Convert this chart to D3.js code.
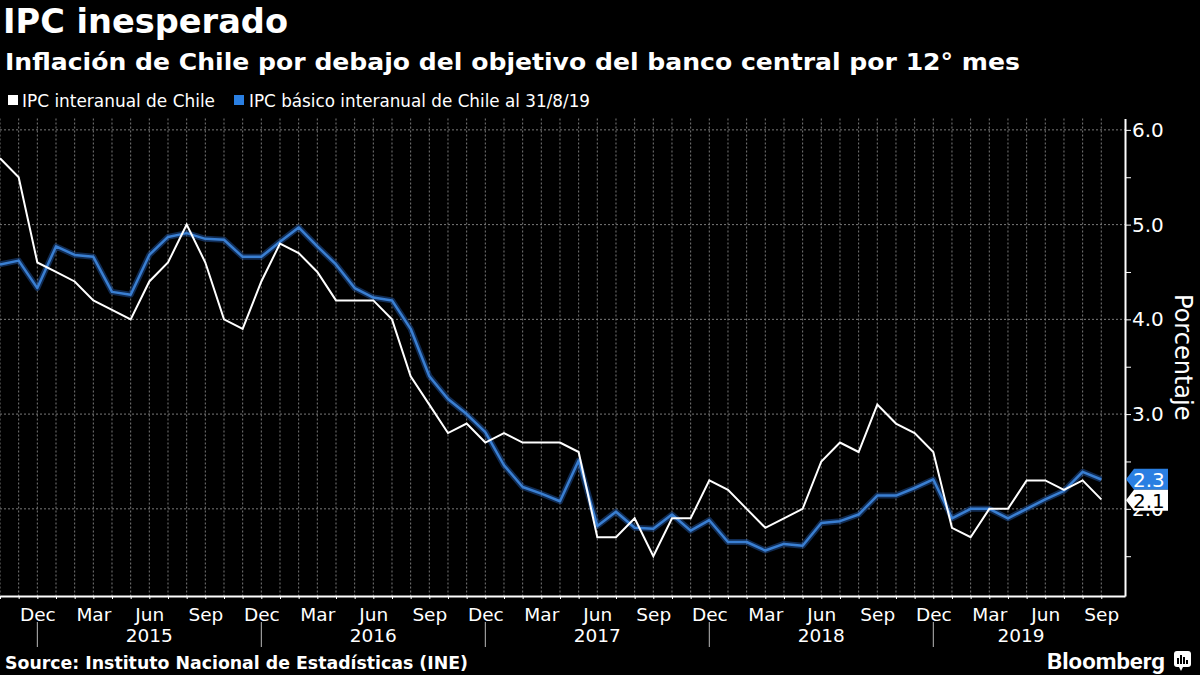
<!DOCTYPE html>
<html><head><meta charset="utf-8">
<script src="https://cdn.jsdelivr.net/npm/d3@7"></script>
<style>body{margin:0;background:#000;} svg{display:block;}</style>
</head><body><svg id="c" width="1200" height="675"></svg>
<script>
// ---- data ----
const titleText = "IPC inesperado";
const subtitleText = "Inflación de Chile por debajo del objetivo del banco central por 12° mes";
const seriesNames = ["IPC interanual de Chile", "IPC básico interanual de Chile al 31/8/19"];
const sourceText = "Source: Instituto Nacional de Estadísticas (INE)";
const axisTitle = "Porcentaje";
const startDate = new Date(2014, 9, 1);   // Oct 2014
const endDate = new Date(2019, 9, 1);     // exclusive -> Sep 2019
const monthLabels = {11: "Dec", 2: "Mar", 5: "Jun", 8: "Sep"};
const years = [2015, 2016, 2017, 2018, 2019];
const yTickValues = [1.5, 2, 2.5, 3, 3.5, 4, 4.5, 5, 5.5, 6];
const ipc = [
  5.7, 5.5, 4.6,
  4.5, 4.4, 4.2, 4.1, 4.0, 4.4, 4.6, 5.0, 4.6, 4.0, 3.9, 4.4,
  4.8, 4.7, 4.5, 4.2, 4.2, 4.2, 4.0, 3.4, 3.1, 2.8, 2.9, 2.7,
  2.8, 2.7, 2.7, 2.7, 2.6, 1.7, 1.7, 1.9, 1.5, 1.9, 1.9, 2.3,
  2.2, 2.0, 1.8, 1.9, 2.0, 2.5, 2.7, 2.6, 3.1, 2.9, 2.8, 2.6,
  1.8, 1.7, 2.0, 2.0, 2.3, 2.3, 2.2, 2.3, 2.1
];
const ipcCore = [
  4.58, 4.62, 4.33,
  4.77, 4.68, 4.66, 4.29, 4.26, 4.68, 4.87, 4.91, 4.85, 4.84, 4.66, 4.66,
  4.82, 4.97, 4.77, 4.58, 4.33, 4.23, 4.20, 3.90, 3.40, 3.16, 3.00, 2.81,
  2.46, 2.23, 2.16, 2.08, 2.51, 1.82, 1.97, 1.80, 1.79, 1.94, 1.77, 1.88,
  1.65, 1.65, 1.56, 1.63, 1.61, 1.85, 1.87, 1.94, 2.14, 2.14, 2.22, 2.31,
  1.90, 2.00, 2.00, 1.90, 2.00, 2.10, 2.19, 2.39, 2.31
];
const colors = {white: "#ffffff", blue: "#3a7fd2", blueTag: "#2a7fe2", grid: "#7a7a7a"};

// ---- layout ----
const dates = d3.timeMonth.range(startDate, endDate);
const idx = dates.map((d, i) => i);
const plot = {left: 0, right: 1125, top: 118.5, bottom: 596};
const x = d3.scaleLinear().domain([0, 60.27]).range([plot.left, plot.right]);
const y = d3.scaleLinear().domain([1.08, 6.12]).range([plot.bottom, plot.top]);

const svg = d3.select("#c");
svg.append("rect").attr("width", 1200).attr("height", 675).attr("fill", "#000");

const FONT = "'DejaVu Sans', sans-serif";

// title
svg.append("text").attr("x", 3).attr("y", 33).text(titleText)
  .attr("fill", "#fff").attr("font-family", FONT).attr("font-weight", "bold")
  .attr("font-size", 33).attr("textLength", 285).attr("lengthAdjust", "spacingAndGlyphs");
svg.append("text").attr("x", 5).attr("y", 70).text(subtitleText)
  .attr("fill", "#fff").attr("font-family", FONT).attr("font-weight", "bold")
  .attr("font-size", 23).attr("textLength", 1015).attr("lengthAdjust", "spacingAndGlyphs");

// legend
const legend = [
  {name: seriesNames[0], color: colors.white, sx: 8, tx: 22, tw: 193},
  {name: seriesNames[1], color: colors.blueTag, sx: 234, tx: 249, tw: 341}
];
legend.forEach(l => {
  svg.append("rect").attr("x", l.sx).attr("y", 95).attr("width", 10).attr("height", 10).attr("fill", l.color);
  svg.append("text").attr("x", l.tx).attr("y", 107).text(l.name).attr("fill", "#fff")
    .attr("font-family", FONT).attr("font-size", 17)
    .attr("textLength", l.tw).attr("lengthAdjust", "spacingAndGlyphs");
});

// grid
const grid = svg.append("g");
grid.selectAll("line.v").data(idx).join("line")
  .attr("x1", d => x(d)).attr("x2", d => x(d))
  .attr("y1", plot.top).attr("y2", plot.bottom)
  .attr("stroke", colors.grid).attr("stroke-width", 1).attr("stroke-dasharray", "2,2");
grid.selectAll("line.h").data(yTickValues.filter(v => v % 1 === 0)).join("line")
  .attr("x1", plot.left).attr("x2", plot.right)
  .attr("y1", d => y(d)).attr("y2", d => y(d))
  .attr("stroke", colors.grid).attr("stroke-width", 1).attr("stroke-dasharray", "2,2");

// lines
const line = d3.line().x((d, i) => x(i)).y(d => y(d));
svg.append("path").datum(ipcCore).attr("d", line).attr("fill", "none")
  .attr("stroke", "#1d4f96").attr("stroke-opacity", 0.55).attr("stroke-width", 6).attr("stroke-linejoin", "round");
svg.append("path").datum(ipcCore).attr("d", line).attr("fill", "none")
  .attr("stroke", colors.blue).attr("stroke-width", 2.5).attr("stroke-linejoin", "round");
svg.append("path").datum(ipc).attr("d", line).attr("fill", "none")
  .attr("stroke", colors.white).attr("stroke-width", 2).attr("stroke-linejoin", "miter");

// x axis
const xAxis = d3.axisBottom(x).tickValues(idx).tickSize(3).tickSizeOuter(0)
  .tickFormat(i => monthLabels[dates[i].getMonth()] || "");
const gx = svg.append("g").attr("transform", `translate(0,${plot.bottom})`).call(xAxis);
gx.select(".domain").attr("stroke", "#fff").attr("stroke-width", 2);
gx.selectAll(".tick line").attr("stroke", "#fff");
gx.selectAll(".tick text").attr("fill", "#fff").attr("font-family", FONT).attr("font-size", 18.5)
  .attr("y", 8).attr("dy", "0.9em");

// year labels and separators
const decIdx = idx.filter(i => dates[i].getMonth() === 11);
decIdx.forEach(i => {
  svg.append("line").attr("x1", x(i)).attr("x2", x(i)).attr("y1", 622).attr("y2", 647)
    .attr("stroke", "#bbb").attr("stroke-width", 1);
});
years.forEach((yr, k) => {
  const a = decIdx[k];
  const b = k + 1 < decIdx.length ? decIdx[k + 1] : idx[idx.length - 1] + 0.4;
  svg.append("text").attr("x", x((a + b) / 2)).attr("y", 642).attr("text-anchor", "middle")
    .text(yr).attr("fill", "#fff").attr("font-family", FONT).attr("font-size", 18.5);
});

// y axis (right)
const yAxis = d3.axisRight(y).tickValues(yTickValues).tickSize(6).tickSizeOuter(0)
  .tickFormat(v => v % 1 === 0 ? d3.format(".1f")(v) : "");
const gy = svg.append("g").attr("transform", `translate(${plot.right},0)`).call(yAxis);
gy.select(".domain").attr("stroke", "#fff").attr("stroke-width", 2);
gy.selectAll(".tick line").attr("stroke", "#fff");
gy.selectAll(".tick text").attr("fill", "#fff").attr("font-family", FONT).attr("font-size", 20).attr("x", 7);

svg.append("text").attr("transform", `translate(1175,${y(3.6)}) rotate(90)`)
  .attr("text-anchor", "middle").text(axisTitle).attr("fill", "#fff")
  .attr("font-family", FONT).attr("font-size", 24);

// last value tags
const tagH = 21;
const tags = [
  {v: ipcCore[ipcCore.length - 1], fill: colors.blueTag, tc: "#fff"},
  {v: ipc[ipc.length - 1], fill: "#fff", tc: "#000"}
].map(t => ({...t, cy: y(t.v)}));
tags.sort((a, b) => a.cy - b.cy);
for (let k = 1; k < tags.length; k++) {
  const overlap = tags[k - 1].cy + tagH - tags[k].cy;
  if (overlap > 0) { tags[k - 1].cy -= overlap * 0.3; tags[k].cy += overlap * 0.7; }
}
tags.forEach(t => {
  const x0 = plot.right + 1, x1 = 1168;
  const pts = [[x0, t.cy], [x0 + 8, t.cy - tagH / 2], [x1, t.cy - tagH / 2], [x1, t.cy + tagH / 2], [x0 + 8, t.cy + tagH / 2]];
  svg.append("polygon").attr("points", pts.map(p => p.join(",")).join(" ")).attr("fill", t.fill);
  svg.append("text").attr("x", x0 + 7).attr("y", t.cy + 7.5).text(d3.format(".1f")(t.v))
    .attr("fill", t.tc).attr("font-family", FONT).attr("font-size", 20);
});

// footer
svg.append("text").attr("x", 5).attr("y", 669).text(sourceText).attr("fill", "#fff")
  .attr("font-family", FONT).attr("font-weight", "bold").attr("font-size", 17)
  .attr("textLength", 463).attr("lengthAdjust", "spacingAndGlyphs");
svg.append("text").attr("x", 1047).attr("y", 669).text("Bloomberg").attr("fill", "#fff")
  .attr("font-family", "Roboto, 'DejaVu Sans', sans-serif").attr("font-weight", "bold").attr("font-size", 22)
  .attr("textLength", 118).attr("lengthAdjust", "spacingAndGlyphs");
const logo = svg.append("g").attr("transform", "translate(1174,651)");
logo.append("rect").attr("width", 17).attr("height", 16).attr("rx", 3).attr("fill", "#fff");
logo.append("polygon").attr("points", "5,16 9,16 7,20").attr("fill", "#fff");
[[4, 7], [7, 4], [10, 6], [13, 9]].forEach(([bx, by]) => {
  logo.append("rect").attr("x", bx - 1).attr("y", by).attr("width", 2).attr("height", 13 - by).attr("fill", "#000");
});
</script>
</body></html>
